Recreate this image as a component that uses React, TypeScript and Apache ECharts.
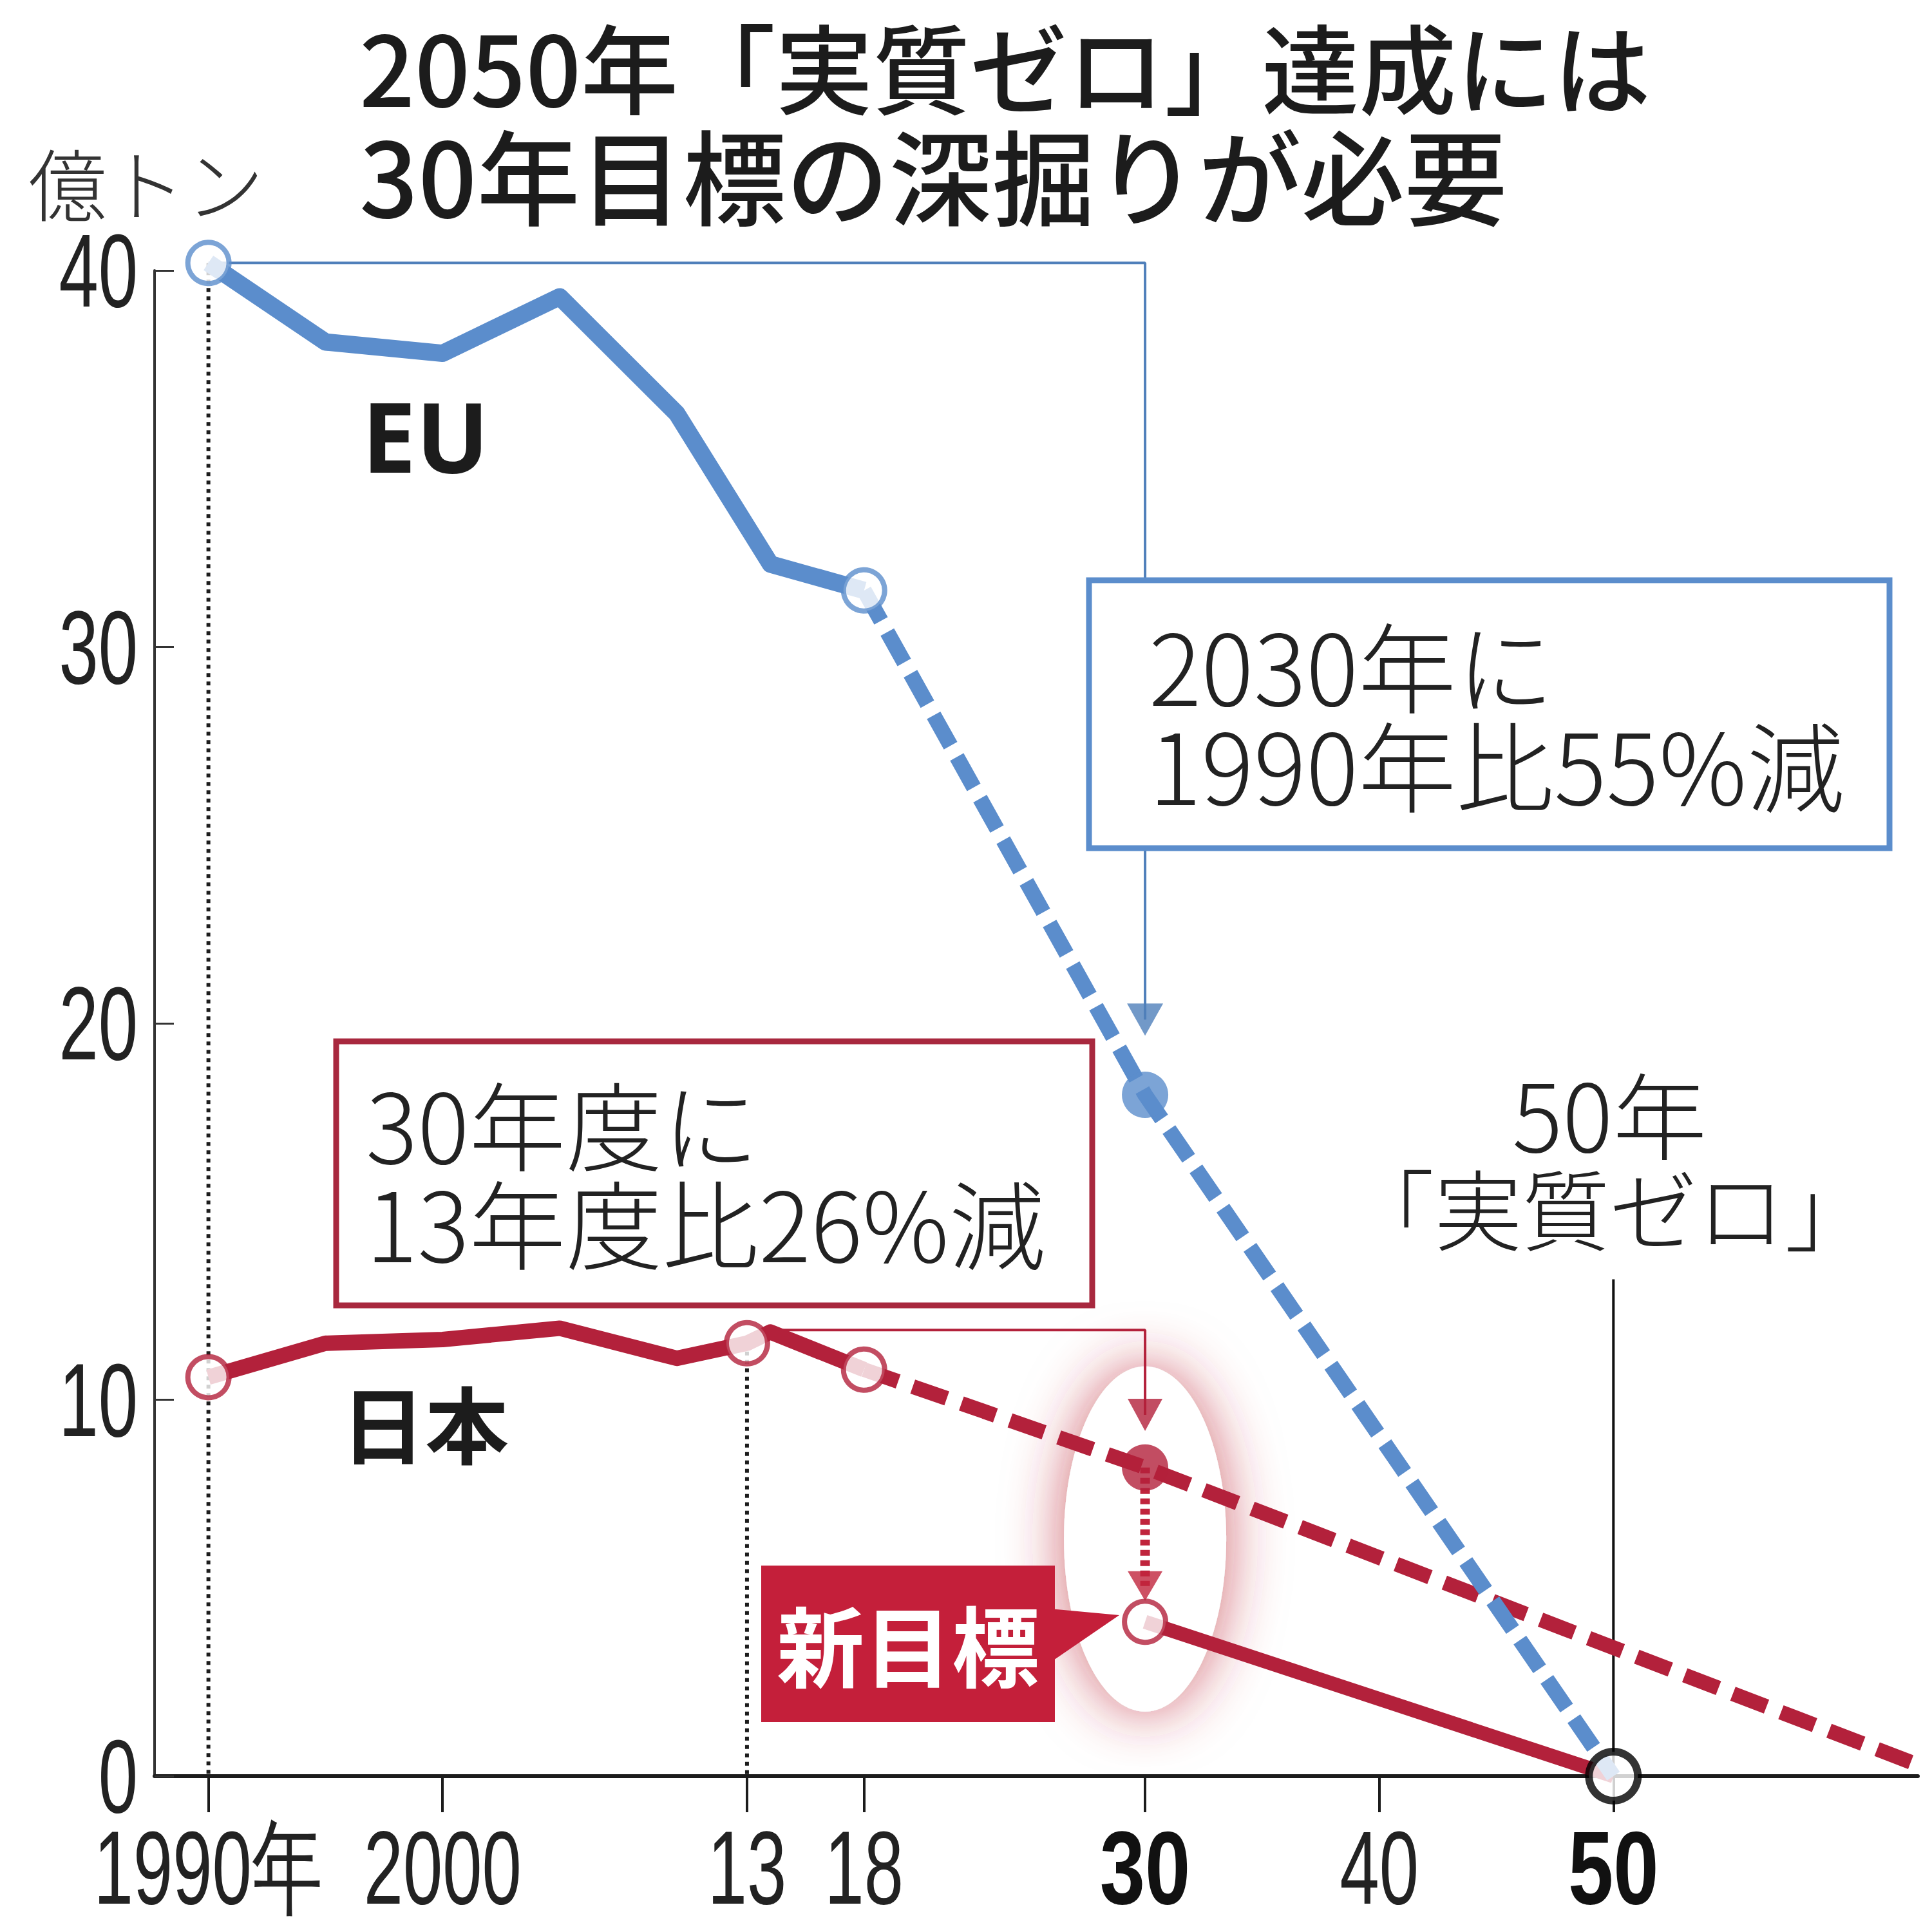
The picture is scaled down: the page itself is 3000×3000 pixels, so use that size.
import { useEffect, useRef } from "react";
import * as echarts from "echarts";

const FONT_JP = "'Noto Sans CJK JP', 'Noto Sans', sans-serif";
const FONT_NUM = "'Liberation Sans', Arial, sans-serif";
const BLUE = "#5b8dcc";
const BLUE_DARK = "#4f7fba";
const RED = "#b3213b";
const RED_BOX = "#a8283e";
const INK = "#1c1c1c";

// EU: actual emissions (億トン)
const euYears = [1990, 1995, 2000, 2005, 2010, 2014, 2018];
const euValues = [40.2, 38.1, 37.8, 39.3, 36.2, 32.2, 31.5];
// EU: target path
const euTargetYears = [2018, 2030, 2050];
const euTargetValues = [31.5, 18.1, 0];

// Japan: actual emissions
const jpYears = [1990, 1995, 2000, 2005, 2010, 2013, 2014, 2018];
const jpValues = [10.6, 11.5, 11.6, 11.9, 11.1, 11.5, 11.8, 10.8];
// Japan: old path (26% cut) and new target path
const jpOldYears = [2018, 2030, 2063];
const jpOldValues = [10.8, 8.2, 0.3];
const jpNewYears = [2030, 2050];
const jpNewValues = [4.1, 0];

// callout leaders (year, value)
const euLeader = [[1990, 40.2], [2030, 40.2], [2030, 20.1]];
const jpLeader = [[2014, 11.85], [2030, 11.85], [2030, 9.6]];
const jpDrop = [[2030, 8.2], [2030, 5.05]];
const zeroLine = [[2050, 13.2], [2050, 0]];

const xTicks = [1990, 2000, 2013, 2018, 2030, 2040, 2050];
const xBold = [2030, 2050];
const yTicks = [0, 10, 20, 30, 40];

const zip = (xs: number[], ys: number[]) => xs.map((x, i) => [x, ys[i]]);
const at = (xs: number[], ys: number[], x: number) => [x, ys[xs.indexOf(x)]];

const openDot = (p: number[], color: string) => ({
  value: p, symbolSize: 64,
  itemStyle: { color: "#fff", borderColor: color, borderWidth: 8 },
});
const fullDot = (p: number[], color: string) => ({
  value: p, symbolSize: 72, itemStyle: { color, borderWidth: 0 },
});
const arrowHead = (p: number[], color: string, w: number, h: number) => ({
  value: p, symbol: "triangle", symbolRotate: 180, symbolSize: [w, h],
  itemStyle: { color, borderWidth: 0 },
});

function xLabel(v: number) {
  if (v === 1990) return "1990年";
  if (v === 2000) return "2000";
  return String(v).slice(2);
}

const guide = (data: number[][], color: string, width: number, type: any = "solid") => ({
  type: "line", clip: false, symbol: "none", silent: true, z: 2,
  data, lineStyle: { color, width, type, cap: "butt" },
});

export default function App() {
  const ref = useRef<HTMLDivElement>(null);
  useEffect(() => {
    if (!ref.current) return;
    const chart = echarts.init(ref.current, null, { renderer: "svg" });
    chart.setOption({
      animation: false,
      backgroundColor: "#fff",
      grid: { left: 240, right: 22, top: 420, bottom: 242 },
      xAxis: {
        type: "value", min: 1987.7, max: 2063,
        splitLine: { show: false },
        axisLine: { lineStyle: { color: INK, width: 6 } },
        axisTick: { customValues: xTicks, length: 56, lineStyle: { color: INK, width: 4 } },
        axisLabel: { show: false },
      },
      yAxis: {
        type: "value", min: 0, max: 40, interval: 10,
        splitLine: { show: false },
        axisLine: { show: true, lineStyle: { color: "#333", width: 4 } },
        axisTick: { show: true, inside: true, length: 30, customValues: yTicks, lineStyle: { color: "#333", width: 3 } },
        axisLabel: { show: false },
      },
      series: [
        guide(zip([1990, 1990], [at(euYears, euValues, 1990)[1], 0]), INK, 6, [6, 7]),
        guide(zip([2013, 2013], [at(jpYears, jpValues, 2013)[1], 0]), INK, 6, [6, 7]),
        guide(euLeader, BLUE_DARK, 4),
        guide(jpLeader, RED, 4),
        guide(zeroLine, "#111", 4),
        { ...guide(jpDrop, "#c0243c", 15, [9, 7]), z: 5 },
        {
          type: "line", clip: false, symbol: "none", z: 3,
          data: zip(jpYears, jpValues),
          lineStyle: { color: RED, width: 24, join: "round" },
        },
        {
          type: "line", clip: false, symbol: "none", z: 3,
          data: zip(jpOldYears, jpOldValues),
          lineStyle: { color: RED, width: 23, type: [56, 24], cap: "butt" },
        },
        {
          type: "line", clip: false, symbol: "none", z: 3,
          data: zip(jpNewYears, jpNewValues),
          lineStyle: { color: RED, width: 22 },
        },
        {
          type: "line", clip: false, symbol: "none", z: 4,
          data: zip(euYears, euValues),
          lineStyle: { color: BLUE, width: 27, join: "round" },
        },
        {
          type: "line", clip: false, symbol: "none", z: 4,
          data: zip(euTargetYears, euTargetValues),
          lineStyle: { color: BLUE, width: 24, type: [54, 20], cap: "butt" },
        },
        {
          type: "scatter", clip: false, z: 10, silent: true,
          data: [
            arrowHead(euLeader[2], BLUE_DARK, 56, 50),
            arrowHead(jpLeader[2], RED, 54, 50),
            arrowHead(jpDrop[1], "#c0243c", 54, 46),
            openDot(at(euYears, euValues, 1990), BLUE),
            openDot(at(euYears, euValues, 2018), BLUE),
            fullDot(at(euTargetYears, euTargetValues, 2030), BLUE),
            openDot(at(jpYears, jpValues, 1990), RED),
            openDot(at(jpYears, jpValues, 2013), RED),
            openDot(at(jpYears, jpValues, 2018), RED),
            fullDot(at(jpOldYears, jpOldValues, 2030), RED),
            openDot(at(jpNewYears, jpNewValues, 2030), RED),
            {
              value: at(jpNewYears, jpNewValues, 2050), symbolSize: 76,
              itemStyle: { color: "#fff", borderColor: "#000", borderWidth: 12 },
            },
          ],
        },
      ],
    });

    const px = (x: number, y: number) => chart.convertToPixel({ gridIndex: 0 }, [x, y]);
    const [ex, ey] = px(2030, 6.3);
    const [zx] = px(2050, 0);
    const txt = (text: string, x: number, y: number, fontSize: number, extra: any = {}) => ({
      type: "text", z: 60,
      style: {
        text, x, y, fontSize, lineHeight: fontSize, fontFamily: FONT_JP, fill: INK,
        align: "left", verticalAlign: "middle", ...extra,
      },
    });
    // condensed tick labels, placed on the axis scale
    const tickText = (text: string, x: number, y: number, align: string, bold: boolean) => ({
      type: "text", z: 60, x, y, scaleX: bold ? 0.78 : 0.68,
      style: {
        text, x: 0, y: 0, fontSize: 162, lineHeight: 162, fontFamily: FONT_NUM,
        fontWeight: bold ? "bold" : "normal",
        fill: bold ? "#111" : "#222", align, verticalAlign: "middle",
      },
    });
    const xLabels = xTicks.map((v) => tickText(xLabel(v), px(v, 0)[0], 2900, "center", xBold.includes(v)));
    const yLabels = yTicks.map((v) => tickText(String(v), 214, px(1990, v)[1], "right", false));
    const light = { fill: "#222", fontWeight: 300 };

    chart.setOption({
      graphic: [
        {
          type: "ellipse", z: 0,
          shape: { cx: ex, cy: ey, rx: 126, ry: 268 },
          style: { fill: "#fff", shadowBlur: 90, shadowColor: "rgba(190,40,55,0.7)" },
        },
        ...xLabels,
        ...yLabels,
        txt("2050年「実質ゼロ」達成には", 558, 100, 151, { fontWeight: 500 }),
        txt("30年目標の深掘りが必要", 558, 268, 160, { fontWeight: 500 }),
        txt("億トン", 44, 280, 122, { ...light, fill: "#333" }),
        txt("EU", 562, 676, 150, { fontWeight: "bold", fontFamily: "'Noto Sans', sans-serif" }),
        txt("日本", 530, 2206, 130, { fontWeight: "bold" }),
        {
          type: "rect", z: 50,
          shape: { x: 1691, y: 901, width: 1243, height: 416 },
          style: { fill: "#fff", stroke: BLUE, lineWidth: 9 },
        },
        txt("2030年に\n1990年比55%減", 1784, 1107, 152, { ...light, lineHeight: 154 }),
        {
          type: "rect", z: 50,
          shape: { x: 522, y: 1617, width: 1174, height: 410 },
          style: { fill: "#fff", stroke: RED_BOX, lineWidth: 9 },
        },
        txt("30年度に\n13年度比26%減", 568, 1818, 150, { ...light, lineHeight: 153 }),
        {
          type: "text", z: 60,
          style: {
            text: "{a|50年}\n{b|「実質ゼロ」}", x: zx - 6, y: 1799,
            align: "center", verticalAlign: "middle",
            fontFamily: FONT_JP, fontWeight: 300, fill: "#222", fontSize: 140,
            rich: {
              a: { fontFamily: FONT_JP, fontWeight: 300, fill: "#222", fontSize: 146, lineHeight: 147, align: "center" },
              b: { fontFamily: FONT_JP, fontWeight: 300, fill: "#222", fontSize: 136, lineHeight: 147, align: "center" },
            },
          },
        },
        {
          type: "polygon", z: 50,
          shape: { points: [[1630, 2498], [1738, 2508], [1630, 2582]] },
          style: { fill: "#c41f3a" },
        },
        {
          type: "rect", z: 51,
          shape: { x: 1182, y: 2431, width: 456, height: 243 },
          style: { fill: "#c41f3a" },
        },
        txt("新目標", 1410, 2550, 136, { fill: "#fff", fontWeight: "bold", align: "center" }),
      ],
    });
    return () => chart.dispose();
  }, []);
  return (
    <div
      ref={ref}
      style={{ position: "absolute", left: 0, top: 0, width: 3000, height: 3000, background: "#fff" }}
    />
  );
}
